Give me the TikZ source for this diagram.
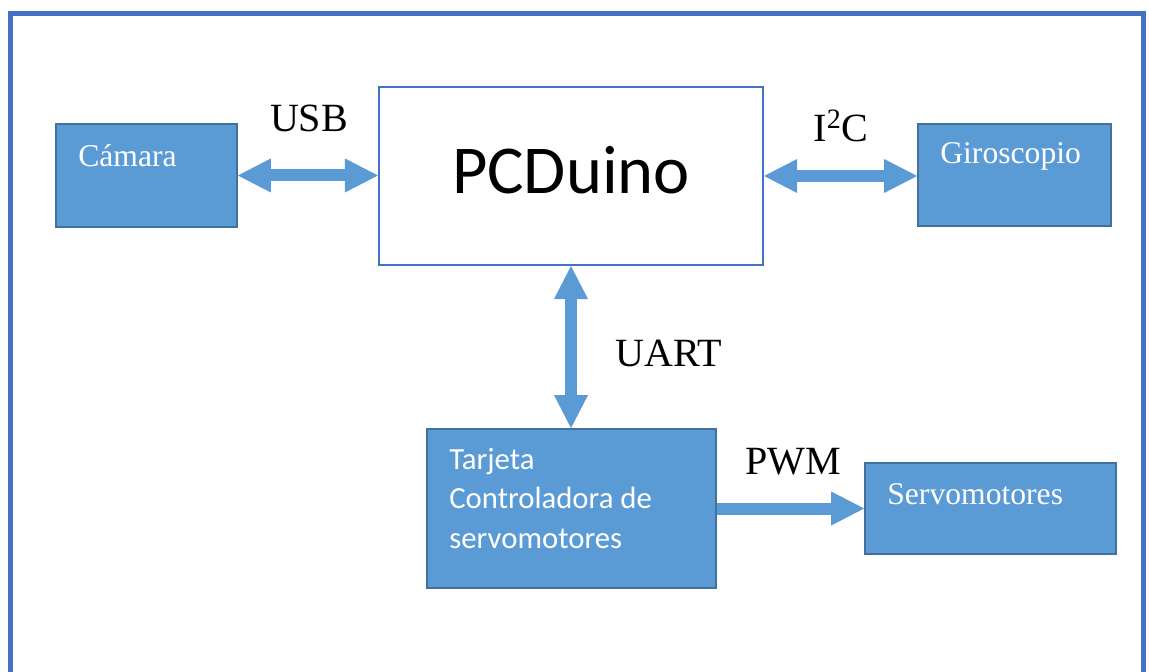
\documentclass[tikz,border=0pt]{standalone}
\usepackage{fontspec}
\setmainfont{Liberation Serif}
\newfontfamily\calibri{Carlito}
\usetikzlibrary{arrows.meta}
\definecolor{boxblue}{HTML}{5B9BD5}
\definecolor{boxedge}{HTML}{41719C}
\definecolor{frameblue}{HTML}{4472C4}

\begin{document}
\begin{tikzpicture}[
	block/.style={rectangle,draw=boxedge,fill=boxblue,line width=1pt,inner sep=0pt},
	main/.style={rectangle,draw=frameblue,fill=white,line width=1.2pt,inner sep=0pt},
	blocktext/.style={anchor=base west,inner sep=0pt,text=white,font=\fontsize{18}{22}\selectfont},
	bus/.style={anchor=base,inner sep=0pt,font=\fontsize{22.8}{27}\selectfont},
	link/.style={draw=boxblue,line width=0.24cm},
	>={Triangle[length=0.66cm,width=0.68cm,line width=0pt]}
	]
	\useasboundingbox (0,0) rectangle (22.98,13.42);
	\draw[frameblue,line width=0.1cm] (0.21,13.15) rectangle (22.86,-1);

	\node[block,minimum width=3.62cm,minimum height=2.06cm] (cam) at (2.93,9.91)	{};
	\node[main,minimum width=7.68cm,minimum height=3.56cm,text depth=0.24cm,font=\calibri\fontsize{39}{47}\selectfont] (pcd) at (11.42,9.90)	{PCDuino};
	\node[block,minimum width=3.86cm,minimum height=2.04cm] (gir) at (20.29,9.92)	{};
	\node[block,minimum width=5.78cm,minimum height=3.18cm] (tar) at (11.43,3.25)	{};
	\node[block,minimum width=5.02cm,minimum height=1.82cm] (srv) at (19.81,3.25)	{};

	\node[blocktext] (camtxt) at (1.56,10.08)	{Cámara};
	\node[blocktext] (girtxt) at (18.80,10.14)	{Giroscopio};
	\node[blocktext] (srvtxt) at (17.74,3.34)	{Servomotores};
	\node[blocktext,align=left,font=\calibri\fontsize{17.5}{22.2}\selectfont] (tartxt) at (8.98,2.46)	{Tarjeta\\Controladora de\\servomotores};

	\node[bus] (usb) at (6.18,10.78)	{USB};
	\node[bus] (i2c) at (16.82,10.58)	{I\textsuperscript{2}C};
	\node[bus] (uart) at (13.38,6.08)	{UART};
	\node[bus] (pwm) at (15.87,3.94)	{PWM};

	\draw[link,<->] (cam.east) -- (pcd.west |- cam.east);
	\draw[link,<->] (pcd.east) -- (gir.west |- pcd.east);
	\draw[link,<->] (pcd.south) -- (pcd.south |- tar.north);
	\draw[link,->] (tar.east) -- (srv.west |- tar.east);
\end{tikzpicture}
\end{document}
